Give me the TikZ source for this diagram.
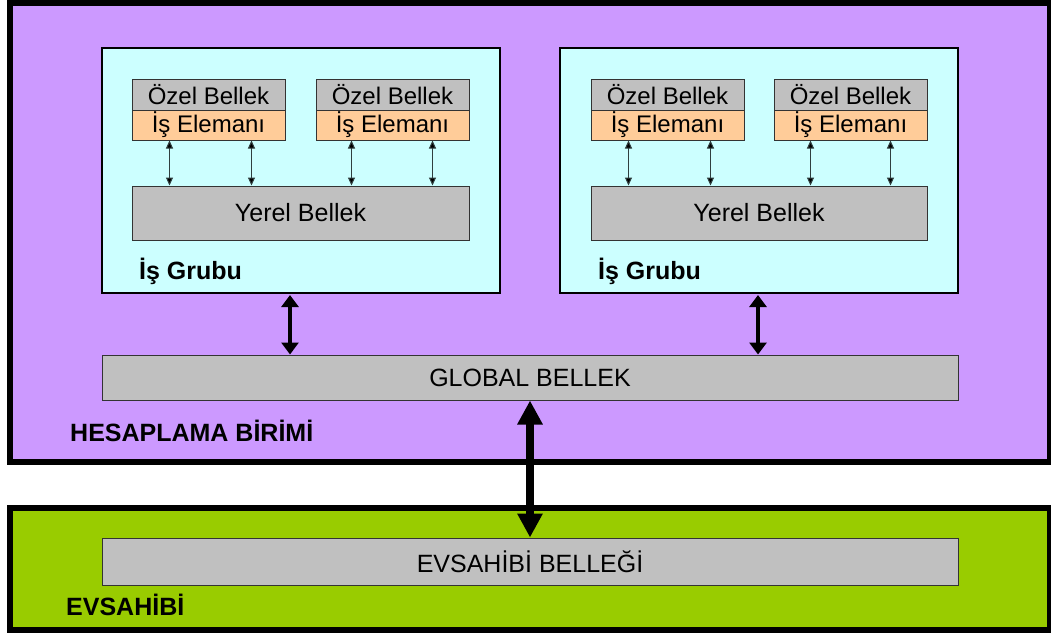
\documentclass[tikz,border=0pt]{standalone}
\usepackage{fontspec}
\setmainfont{Liberation Sans}
\usetikzlibrary{arrows.meta,calc}
\definecolor{purp}{HTML}{CC99FF}
\definecolor{cyanbg}{HTML}{CCFFFF}
\definecolor{greenbg}{HTML}{99CC00}
\definecolor{grayb}{HTML}{C0C0C0}
\definecolor{orangeb}{HTML}{FFCC99}
\definecolor{edgegray}{HTML}{333333}
\definecolor{arrowgray}{HTML}{2F3F3F}
\tikzset{
  outerbox/.style={draw=black,line width=6pt},
  groupbox/.style={draw=black,fill=cyanbg,line width=2pt,inner sep=0pt},
  membox/.style={draw=edgegray,fill=grayb,line width=1pt,inner sep=0pt,font=\fontsize{25}{30}\selectfont},
  smallbox/.style={draw=edgegray,line width=1pt,inner sep=0pt,minimum width=153pt,font=\fontsize{24}{28}\selectfont},
  boldlabel/.style={anchor=base west,inner sep=0pt,font=\bfseries\fontsize{25}{30}\selectfont},
  smallarrow/.style={draw=arrowgray,line width=1pt,{Triangle[length=8pt,width=7pt,fill=black]}-{Triangle[length=8pt,width=7pt,fill=black]}},
  midarrow/.style={line width=3.5pt,{Triangle[length=12pt,width=17pt]}-{Triangle[length=12pt,width=17pt]}},
  bigarrow/.style={line width=8pt,{Triangle[length=24pt,width=24pt]}-{Triangle[length=24pt,width=24pt]}}
}
\begin{document}
\begin{tikzpicture}[x=1pt,y=-1pt]
\useasboundingbox (0,0) rectangle (1051,635);
% outer boxes
\draw[outerbox,fill=purp] (10,3) rectangle (1050,462);
\draw[outerbox,fill=greenbg] (10,508) rectangle (1050,630);
% work groups
\node[groupbox,minimum width=398pt,minimum height=245pt] (g1) at (301,170.5) {};
\node[groupbox,minimum width=398pt,minimum height=245pt] (g2) at (759,170.5) {};
% private memories and work items, group 1
\node[smallbox,fill=grayb,minimum height=31pt] (oz1) at (208.5,94.5) {Özel Bellek};
\node[smallbox,fill=orangeb,minimum height=30pt] (is1) at (208.5,125) {İş Elemanı};
\node[smallbox,fill=grayb,minimum height=31pt] (oz2) at (392.5,94.5) {Özel Bellek};
\node[smallbox,fill=orangeb,minimum height=30pt] (is2) at (392.5,125) {İş Elemanı};
\node[membox,minimum width=337pt,minimum height=54pt] (y1) at (300.5,213) {Yerel Bellek};
% group 2
\node[smallbox,fill=grayb,minimum height=31pt] (oz3) at (667.5,94.5) {Özel Bellek};
\node[smallbox,fill=orangeb,minimum height=30pt] (is3) at (667.5,125) {İş Elemanı};
\node[smallbox,fill=grayb,minimum height=31pt] (oz4) at (850.5,94.5) {Özel Bellek};
\node[smallbox,fill=orangeb,minimum height=30pt] (is4) at (850.5,125) {İş Elemanı};
\node[membox,minimum width=336pt,minimum height=54pt] (y2) at (759,213) {Yerel Bellek};
% global and host memory
\node[membox,minimum width=856pt,minimum height=45pt] (glob) at (530,377.5) {GLOBAL BELLEK};
\node[membox,minimum width=856pt,minimum height=47pt] (host) at (530,561.5) {EVSAHİBİ BELLEĞİ};
% labels
\node[boldlabel] (l1) at (139,279) {İş Grubu};
\node[boldlabel] (l2) at (598,279) {İş Grubu};
\node[boldlabel] (l3) at (70,441) {HESAPLAMA BİRİMİ};
\node[boldlabel] (l4) at (66,615) {EVSAHİBİ};
% small arrows
\coordinate (a1) at ($(is1.south west)+(38,0)$);
\coordinate (a2) at ($(is1.south west)+(120,0)$);
\coordinate (a3) at ($(is2.south west)+(36,0)$);
\coordinate (a4) at ($(is2.south west)+(117,0)$);
\coordinate (a5) at ($(is3.south west)+(38,0)$);
\coordinate (a6) at ($(is3.south west)+(120,0)$);
\coordinate (a7) at ($(is4.south west)+(37,0)$);
\coordinate (a8) at ($(is4.south west)+(117,0)$);
\draw[smallarrow] (a1) -- (a1 |- y1.north);
\draw[smallarrow] (a2) -- (a2 |- y1.north);
\draw[smallarrow] (a3) -- (a3 |- y1.north);
\draw[smallarrow] (a4) -- (a4 |- y1.north);
\draw[smallarrow] (a5) -- (a5 |- y2.north);
\draw[smallarrow] (a6) -- (a6 |- y2.north);
\draw[smallarrow] (a7) -- (a7 |- y2.north);
\draw[smallarrow] (a8) -- (a8 |- y2.north);
% thick arrows
\coordinate (b1) at ($(g1.south west)+(189,1)$);
\coordinate (b2) at ($(g2.south west)+(199,1)$);
\draw[midarrow] (b1) -- (b1 |- glob.north);
\draw[midarrow] (b2) -- (b2 |- glob.north);
\draw[bigarrow] (glob.south) -- (host.north);
\end{tikzpicture}
\end{document}
